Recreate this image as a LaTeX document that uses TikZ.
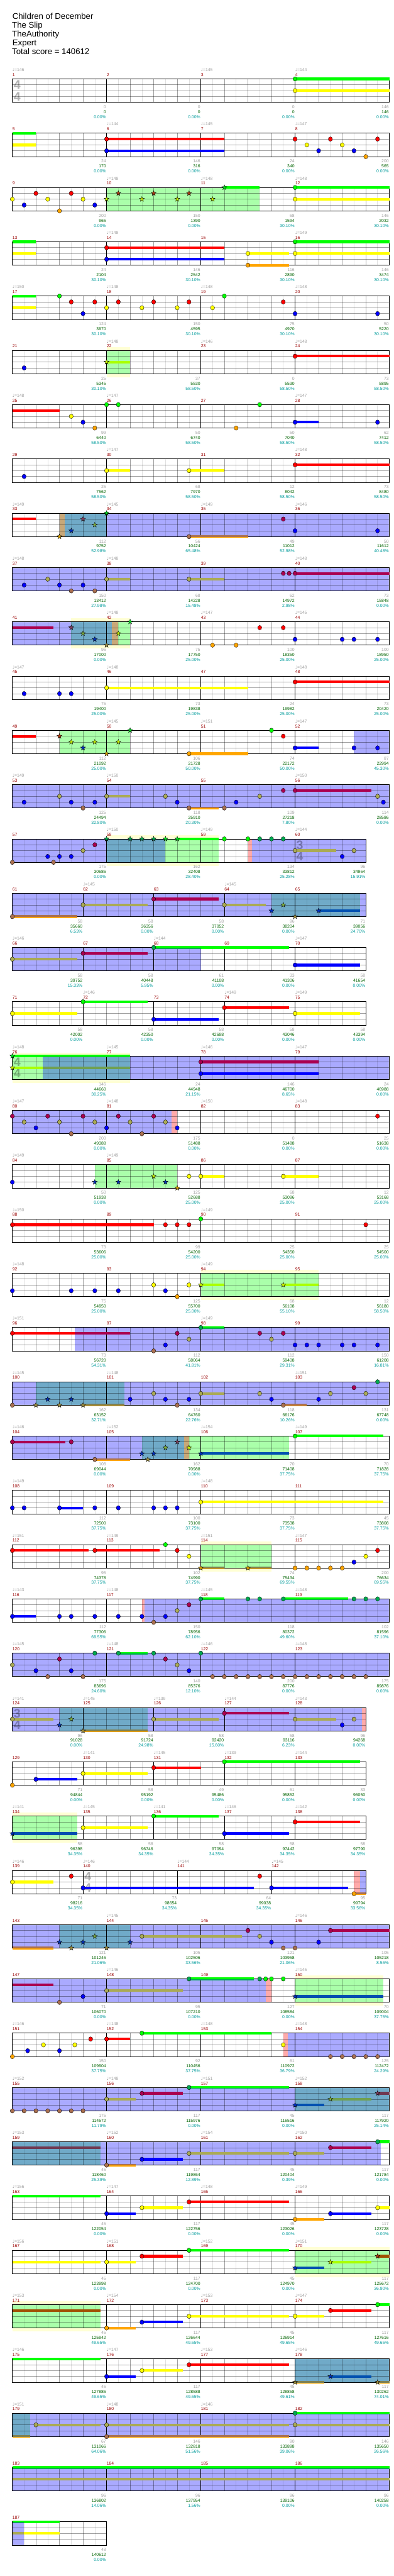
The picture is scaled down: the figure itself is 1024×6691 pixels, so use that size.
\documentclass[tikz,border=0pt]{standalone}
\usepackage{fontspec}
\setmainfont{Liberation Sans}
\newfontfamily\dv{DejaVu Sans}
\definecolor{cG}{HTML}{00FF00}
\definecolor{cR}{HTML}{FF0000}
\definecolor{cY}{HTML}{FFFF00}
\definecolor{cB}{HTML}{0000FF}
\definecolor{cO}{HTML}{FFA500}
\definecolor{aR}{HTML}{AA0050}
\definecolor{aY}{HTML}{AAAA55}
\definecolor{aO}{HTML}{AA7050}
\definecolor{aG}{HTML}{00AA50}
\definecolor{sG}{HTML}{00E020}
\definecolor{sR}{HTML}{B03A10}
\definecolor{sY}{HTML}{C8F000}
\definecolor{sB}{HTML}{0030C0}
\definecolor{sO}{HTML}{D8A000}
\definecolor{tR}{HTML}{804060}
\definecolor{tY}{HTML}{80B040}
\definecolor{tO}{HTML}{A09040}
\definecolor{lime}{HTML}{AAFF00}
\definecolor{dB}{HTML}{0050B0}
\definecolor{bR}{HTML}{A05000}
\definecolor{tYs}{HTML}{70A050}
\definecolor{tRs}{HTML}{703850}
\definecolor{olO}{HTML}{808050}
\definecolor{hlY}{HTML}{FFFFD4}
\definecolor{spG}{HTML}{AAFFAA}
\definecolor{acB}{HTML}{AAAAFF}
\definecolor{tealc}{HTML}{70AAC8}
\definecolor{tanc}{HTML}{C8A878}
\definecolor{pinkc}{HTML}{FFAAAA}
\definecolor{mred}{HTML}{990000}
\definecolor{lgray}{HTML}{A0A0A0}
\definecolor{dgreen}{HTML}{006400}
\definecolor{cyanc}{HTML}{009C9C}
\newcounter{nn}
\newcommand\Rw[1]{\pgfmathsetmacro\RT{205+141*(#1-1)}}
\newcommand\Rg[3]{\fill[#3] ({32+30.625*(#1)},\RT) rectangle ({32+30.625*(#2)},{\RT+60.8});}
\newcommand\Hl[2]{\fill[hlY] ({32+30.625*(#1)},{\RT-9}) rectangle ({32+30.625*(#2)},{\RT+69.8});}
\newcommand\Grid[2]{%
  \foreach \i in {1,3,...,#1}{\draw[subl] ({32+30.625*\i},\RT) -- ++(0,60.8);}
  \foreach \i in {2,4,...,#1}{\draw[beatl] ({32+30.625*\i},\RT) -- ++(0,60.8);}
  \foreach \k in {1,2,3}{\draw[beatl] (32,{\RT+15.2*\k}) -- ({32+30.625*#1},{\RT+15.2*\k});}
  \foreach \i in {#2}{\draw[measl] ({32+30.625*\i},\RT) -- ++(0,60.8);}
  \draw[bord] (32,\RT) rectangle ({32+30.625*#1},{\RT+60.8});}
\newcommand\Mn[2]{\stepcounter{nn}\node[lab,text=mred,anchor=base west,name=n\arabic{nn}] at ({32+30.625*(#1)},{\RT-6.8}) {#2};}
\newcommand\Gm[4]{\Grid{#1}{#2}\foreach \hh [count=\cc from 0] in {#3}{\pgfmathtruncatemacro\mm{#4+\cc}\Mn{\hh}{\mm}}}
\newcommand\Gf[1]{\Gm{32}{8,16,24}{0,8,16,24}{#1}}
\newcommand\Gt[1]{\Gm{30}{6,12,18,24}{0,6,12,18,24}{#1}}
\newcommand\Tp[2]{\stepcounter{nn}\node[lab,text=lgray,anchor=base west,name=n\arabic{nn}] at ({32+30.625*(#1)},{\RT-19.5}) {{\dv ♩}=#2};}
\newcommand\Lb[4]{%
  \stepcounter{nn}\node[lab,text=lgray,anchor=base east,name=n\arabic{nn}] at ({31+30.625*(#1)},{\RT+76.8}) {#2};
  \stepcounter{nn}\node[lab,text=dgreen,anchor=base east,name=n\arabic{nn}] at ({31+30.625*(#1)},{\RT+89.8}) {#3};
  \stepcounter{nn}\node[lab,text=cyanc,anchor=base east,name=n\arabic{nn}] at ({31+30.625*(#1)},{\RT+102.8}) {#4\%};}
\newcommand\Ts[3]{%
  \stepcounter{nn}\node[tsig,name=n\arabic{nn}] at ({44.5+30.625*(#1)},{\RT+15.5}) {#2};
  \stepcounter{nn}\node[tsig,name=n\arabic{nn}] at ({44.5+30.625*(#1)},{\RT+45.5}) {#3};}
\newcommand\Su[4]{\fill[#4] ({32+30.625*(#1)},{\RT+15.2*(#3)-3.4}) rectangle ({32+30.625*(#2)},{\RT+15.2*(#3)+3.4});}
\newcommand\Sd[5]{\fill[#5] ({32+30.625*(#1)},{\RT+15.2*(#3)-3.4}) rectangle ({32+30.625*(#2)},{\RT+15.2*(#3)+3.4});
  \fill[#4] ({32+30.625*(#1)},{\RT+15.2*(#3)-3.4}) rectangle ({32+30.625*(#2)},{\RT+15.2*(#3)+1});}
\newcommand\Nt[3]{\filldraw[fill=#3,draw=black,line width=0.3pt] ({32+30.625*(#1)},{\RT+15.2*(#2)}) ellipse [x radius=5.3,y radius=5.8];}
\newcommand\St[3]{\filldraw[fill=#3,draw=black,line width=0.3pt,shift={({32+30.625*(#1)},{\RT+15.2*(#2)})}] (270:6.8)--(306:2.8)--(342:6.8)--(18:2.8)--(54:6.8)--(90:2.8)--(126:6.8)--(162:2.8)--(198:6.8)--(234:2.8)--cycle;}
\begin{document}
\begin{tikzpicture}[x=0.5pt,y=-0.5pt,
  subl/.style={draw=black,draw opacity=0.12,line width=0.5pt},
  beatl/.style={draw=black,draw opacity=0.37,line width=0.5pt},
  measl/.style={draw=black,line width=0.5pt},
  bord/.style={draw=black,line width=0.65pt},
  lab/.style={inner sep=0pt,font=\fontsize{5.6pt}{6pt}\selectfont},
  tsig/.style={inner sep=0pt,text=black,text opacity=0.3,font=\bfseries\fontsize{16pt}{16pt}\selectfont},
  ttl/.style={inner sep=0pt,anchor=base west,font=\fontsize{10.8pt}{12pt}\selectfont}]
\useasboundingbox (0,0) rectangle (1024,6691);
\fill[white] (0,0) rectangle (1024,6691);
\node[ttl,name=t1] at (32,49.3) {Children of December};
\node[ttl,name=t2] at (31,72) {The Slip};
\node[ttl,name=t3] at (31,95.3) {TheAuthority};
\node[ttl,name=t4] at (32,118.3) {Expert};
\node[ttl,name=t5] at (31,141) {Total score = 140612};
% Row 1
\Rw{1}\Gf{1}\Ts{0}{4}{4}
\Su{24}{32}{0}{cG}\Su{24}{32}{2}{cY}\Nt{24}{0}{cG}\Nt{24}{2}{cY}
\Tp{0}{146}\Tp{16}{145}\Tp{24}{144}
\Lb{8}{0}{0}{0.00}\Lb{16}{0}{0}{0.00}\Lb{24}{0}{0}{0.00}\Lb{32}{146}{146}{0.00}
% Row 2
\Rw{2}\Gf{5}
\Su{0}{2}{0}{cG}\Su{0}{2}{2}{cY}\Su{8}{18}{1}{cR}\Su{8}{18}{3}{cB}
\Nt{8}{1}{cR}\Nt{8}{3}{cB}\Nt{24}{1}{cR}\Nt{25}{2}{cY}\Nt{26}{3}{cB}\Nt{27}{1}{cR}\Nt{28}{2}{cY}\Nt{29}{3}{cB}\Nt{30}{4}{cO}\Nt{31}{1}{cR}
\Tp{8}{144}\Tp{16}{145}\Tp{24}{147}
\Lb{8}{24}{170}{0.00}\Lb{16}{146}{316}{0.00}\Lb{24}{24}{340}{0.00}\Lb{32}{200}{565}{0.00}
% Row 3
\Rw{3}\Rg{8}{21}{spG}\Gf{9}
\Nt{0}{2}{cY}\Nt{1}{3}{cB}\Nt{2}{1}{cR}\Nt{3}{2}{cY}\Nt{4}{4}{cO}\Nt{5}{1}{cR}\Nt{6}{2}{cY}\Nt{7}{3}{cB}
\St{8}{2}{sY}\St{9}{1}{sR}\St{11}{2}{sY}\St{12}{1}{sR}\St{14}{2}{sY}\St{15}{1}{sR}\St{17}{2}{sY}\Su{18}{21}{0}{cG}\St{18}{0}{sG}
\Su{24}{32}{0}{cG}\Su{24}{32}{2}{cY}\Nt{24}{0}{cG}\Nt{24}{2}{cY}
\Tp{8}{148}\Tp{16}{148}\Tp{24}{148}
\Lb{8}{200}{965}{0.00}\Lb{16}{150}{1390}{0.00}\Lb{24}{68}{1594}{30.10}\Lb{32}{146}{2032}{30.10}
% Row 4
\Rw{4}\Gf{13}
\Su{0}{2}{0}{cG}\Su{0}{2}{2}{cY}\Su{8}{18}{1}{cR}\Su{8}{18}{3}{cB}\Su{20}{23.5}{2}{cY}\Su{20}{23.5}{4}{cO}\Su{24}{32}{0}{cG}\Su{24}{32}{2}{cY}
\Nt{8}{1}{cR}\Nt{8}{3}{cB}\Nt{20}{2}{cY}\Nt{20}{4}{cO}\Nt{24}{0}{cG}\Nt{24}{2}{cY}
\Tp{8}{148}\Tp{24}{149}
\Lb{8}{24}{2104}{30.10}\Lb{16}{146}{2542}{30.10}\Lb{24}{116}{2890}{30.10}\Lb{32}{146}{3474}{30.10}
% Row 5
\Rw{5}\Gf{17}
\Su{0}{2}{0}{cG}\Su{0}{2}{2}{cY}
\Nt{4}{0}{cG}\Nt{5}{1}{cR}\Nt{6}{3}{cB}\Nt{7}{1}{cR}\Nt{8}{2}{cY}\Nt{9}{1}{cR}\Nt{11}{2}{cY}\Nt{12}{1}{cR}\Nt{14}{2}{cY}\Nt{15}{1}{cR}\Nt{17}{2}{cY}\Nt{18}{0}{cG}\Nt{23}{1}{cR}\Nt{24}{3}{cB}\Nt{31}{3}{cB}
\Tp{0}{150}\Tp{8}{148}\Tp{16}{148}\Tp{24}{148}
\Lb{8}{124}{3970}{30.10}\Lb{16}{150}{4595}{30.10}\Lb{24}{75}{4970}{30.10}\Lb{32}{50}{5220}{30.10}
% Row 6
\Rw{6}\Hl{8}{10}\Rg{8}{10}{spG}\Gf{21}
\Nt{1}{3}{cB}\Su{8}{10}{2}{lime}\St{8}{2}{sY}\Su{24}{32}{1}{cR}\Nt{24}{1}{cR}
\Tp{8}{148}\Tp{16}{146}\Tp{24}{148}
\Lb{8}{25}{5345}{30.10}\Lb{16}{37}{5530}{58.50}\Lb{24}{0}{5530}{58.50}\Lb{32}{73}{5895}{58.50}
% Row 7
\Rw{7}\Gf{25}
\Su{0}{4}{1}{cR}\Nt{5}{2}{cY}\Nt{6}{3}{cB}\Nt{7}{4}{cO}\Nt{8}{0}{cG}\Nt{9}{0}{cG}\Nt{19}{4}{cO}\Nt{21}{0}{cG}\Su{24}{26}{3}{cB}\Nt{24}{3}{cB}\Nt{31}{3}{cB}
\Tp{0}{148}\Tp{8}{147}\Tp{24}{147}
\Lb{8}{99}{6440}{58.50}\Lb{16}{50}{6740}{58.50}\Lb{24}{50}{7040}{58.50}\Lb{32}{62}{7412}{58.50}
% Row 8
\Rw{8}\Gf{29}
\Nt{1}{3}{cB}\Su{8}{10}{2}{cY}\Nt{8}{2}{cY}\Su{15}{18}{2}{cY}\Nt{15}{2}{cY}\Su{24}{32}{1}{cR}\Nt{24}{1}{cR}
\Tp{8}{147}\Tp{24}{148}
\Lb{8}{25}{7562}{58.50}\Lb{16}{68}{7970}{58.50}\Lb{24}{12}{8042}{58.50}\Lb{32}{73}{8480}{58.50}
% Row 9
\Rw{9}\Rg{4}{4.45}{tanc}\Rg{4.45}{8}{tealc}\Rg{8}{32}{acB}\Gf{33}
\Su{0}{2}{1}{cR}\St{4}{4}{sO}\St{5}{3}{sB}\St{6}{1}{tR}\St{7}{2}{tY}\St{8}{0}{sG}
\Sd{15}{20}{4}{aO}{cO}\Nt{15}{4}{aO}\Nt{23}{1}{aR}\Nt{24}{3}{cB}\Nt{31}{3}{cB}
\Tp{0}{149}\Tp{8}{145}\Tp{16}{149}\Tp{24}{146}
\Lb{8}{112}{9752}{52.98}\Lb{16}{56}{10424}{65.48}\Lb{24}{49}{11012}{52.98}\Lb{32}{50}{11612}{40.48}
% Row 10
\Rw{10}\Rg{0}{32}{acB}\Gf{37}
\Nt{1}{3}{cB}\Nt{3}{2}{aY}\Nt{4}{3}{cB}\Nt{5}{4}{aO}\Nt{6}{3}{cB}\Nt{7}{4}{aO}\Su{8}{10}{2}{aY}\Nt{8}{2}{aY}\Su{15}{18}{2}{aY}\Nt{15}{2}{aY}\Nt{23}{1}{aR}\Nt{23.5}{1}{aR}\Su{24}{32}{1}{aR}\Nt{24}{1}{aR}
\Tp{0}{148}\Tp{8}{148}\Tp{24}{148}
\Lb{8}{150}{13412}{27.98}\Lb{16}{68}{14228}{15.48}\Lb{24}{62}{14972}{2.98}\Lb{32}{73}{15848}{0.00}
% Row 11
\Rw{11}\Hl{5}{10}\Rg{0}{5}{acB}\Rg{5}{8.47}{tealc}\Rg{8.47}{9}{tanc}\Rg{9}{10}{spG}\Gf{41}
\Su{0}{3.5}{1}{aR}\St{5}{1}{tR}\St{6}{2}{tY}\St{7}{3}{sB}\St{8}{4}{tO}\St{9}{2}{sY}\St{10}{0}{sG}
\Nt{17}{4}{cO}\Nt{19}{4}{cO}\Nt{21}{1}{cR}\Nt{23}{1}{cR}\Nt{24}{3}{cB}\Nt{28}{3}{cB}\Nt{29}{3}{cB}\Nt{31}{3}{cB}
\Tp{8}{148}\Tp{16}{147}\Tp{24}{145}
\Lb{8}{96}{17000}{0.00}\Lb{16}{75}{17750}{25.00}\Lb{24}{100}{18350}{25.00}\Lb{32}{100}{18950}{25.00}
% Row 12
\Rw{12}\Gf{45}
\Nt{1}{3}{cB}\Nt{4}{3}{cB}\Nt{5}{3}{cB}\Su{8}{20}{2}{cY}\Nt{8}{2}{cY}\Su{24}{32}{1}{cR}\Nt{24}{1}{cR}
\Tp{0}{147}\Tp{8}{148}\Tp{24}{148}
\Lb{8}{75}{19400}{25.00}\Lb{16}{73}{19838}{25.00}\Lb{24}{24}{19982}{25.00}\Lb{32}{73}{20420}{25.00}
% Row 13
\Rw{13}\Rg{4}{10}{spG}\Rg{29}{32}{acB}\Gf{49}
\Su{0}{2}{1}{cR}\St{4}{1}{sR}\St{5}{2}{sY}\St{6}{3}{sB}\St{7}{2}{sY}\St{8}{4}{sO}\St{9}{2}{sY}\St{10}{0}{sG}
\Su{15}{20}{4}{cO}\Nt{15}{4}{cO}\Nt{22}{0}{cG}\Nt{23}{1}{cR}\Su{24}{26}{3}{cB}\Nt{24}{3}{cB}\Nt{29}{3}{cB}\Nt{31}{3}{cB}
\Tp{8}{145}\Tp{16}{151}\Tp{24}{147}
\Lb{8}{112}{21092}{25.00}\Lb{16}{106}{21728}{50.00}\Lb{24}{74}{22172}{50.00}\Lb{32}{87}{22994}{45.30}
% Row 14
\Rw{14}\Rg{0}{32}{acB}\Gf{53}
\Nt{1}{3}{cB}\Nt{4}{2}{aY}\Nt{5}{3}{cB}\Nt{6}{4}{aO}\Nt{7}{3}{cB}\Su{8}{10}{2}{aY}\Nt{8}{2}{aY}\Nt{13}{2}{aY}\Nt{14}{3}{cB}\Sd{15}{17.5}{4}{aO}{cO}\Nt{15}{4}{aO}\Nt{18}{4}{aO}\Nt{19}{3}{cB}\Nt{21}{2}{aY}\Nt{23}{1}{aR}\Su{24}{30.5}{1}{aR}\Nt{24}{1}{aR}\Nt{31}{2}{aY}\Nt{31.5}{3}{cB}
\Tp{0}{149}\Tp{8}{150}\Tp{24}{150}
\Lb{8}{125}{24494}{32.80}\Lb{16}{118}{25910}{20.30}\Lb{24}{109}{27218}{7.80}\Lb{32}{114}{28586}{0.00}
% Row 15
\Rw{15}\Hl{8}{17.5}\Rg{0}{8}{acB}\Rg{8}{13}{tealc}\Rg{13}{17.5}{spG}\Rg{20}{20.35}{pinkc}\Rg{20.35}{30}{acB}\Gm{30}{8,16,24}{0,8,16,24}{57}\Ts{24}{3}{4}
\Nt{0}{4}{aO}\Nt{3}{3}{cB}\Nt{3.5}{4}{aO}\Nt{4}{3}{cB}\Nt{5}{3}{cB}\Nt{6}{2}{aY}\Nt{7}{1}{aR}
\St{8}{0}{aG}\St{10}{0}{aG}\St{11}{0}{aG}\St{12}{0}{aG}\St{13}{0}{sG}\Su{14}{17.5}{0}{cG}\St{14}{0}{sG}
\Nt{18}{0}{cG}\Nt{20}{0}{cG}\Nt{21}{0}{aG}\Nt{22}{0}{aG}\Nt{23}{0}{aG}\Su{24}{27.5}{2}{aY}\Nt{24}{2}{aY}\Nt{28}{3}{cB}\Nt{29}{2}{aY}
\Tp{8}{150}\Tp{16}{149}\Tp{24}{144}
\Lb{8}{175}{30686}{0.00}\Lb{16}{162}{32408}{28.40}\Lb{24}{134}{33812}{25.28}\Lb{30}{96}{34964}{15.91}
% Row 16
\Rw{16}\Rg{0}{22}{acB}\Rg{22}{29.5}{tealc}\Rg{29.5}{30}{acB}\Gt{61}
\Sd{0}{5.5}{4}{aO}{cO}\Nt{0}{4}{aO}\Su{6}{11.5}{2}{aY}\Nt{6}{2}{aY}\Su{12}{17.5}{1}{aR}\Nt{12}{1}{aR}\Su{18}{21.5}{2}{aY}\Nt{18}{2}{aY}
\St{22}{3}{sB}\St{23}{2}{tY}\St{24}{4}{tO}\Su{26}{29.5}{3}{dB}\St{26}{3}{sB}
\Tp{6}{145}\Tp{18}{145}
\Lb{6}{58}{35660}{6.53}\Lb{12}{58}{36356}{0.00}\Lb{18}{58}{37052}{0.00}\Lb{24}{96}{38204}{0.00}\Lb{30}{71}{39056}{24.70}
% Row 17
\Rw{17}\Rg{0}{16}{acB}\Gt{66}
\Su{0}{5.5}{2}{aY}\Nt{0}{2}{aY}\Su{6}{11.5}{1}{aR}\Nt{6}{1}{aR}\Sd{12}{16}{0}{cG}{aG}\Su{16}{23.5}{0}{cG}\Nt{12}{0}{aG}\Su{24}{29.5}{3}{cB}\Nt{24}{3}{cB}
\Tp{0}{146}\Tp{12}{144}\Tp{24}{147}
\Lb{6}{58}{39752}{15.33}\Lb{12}{58}{40448}{5.95}\Lb{18}{61}{41108}{0.00}\Lb{24}{33}{41306}{0.00}\Lb{30}{58}{41654}{0.00}
% Row 18
\Rw{18}\Gt{71}
\Su{0}{5.5}{2}{cY}\Nt{0}{2}{cY}\Su{6}{11.5}{0}{cG}\Nt{6}{0}{cG}\Su{12}{17.5}{3}{cB}\Nt{12}{3}{cB}\Su{18}{23.5}{1}{cR}\Nt{18}{1}{cR}\Su{24}{29.5}{2}{cY}\Nt{24}{2}{cY}
\Tp{6}{146}\Tp{18}{149}\Tp{24}{149}
\Lb{6}{58}{42002}{0.00}\Lb{12}{58}{42350}{0.00}\Lb{18}{58}{42698}{0.00}\Lb{24}{58}{43046}{0.00}\Lb{30}{58}{43394}{0.00}
% Row 19
\Rw{19}\Hl{0}{10}\Rg{0}{2.6}{spG}\Rg{2.6}{10}{tealc}\Rg{10}{32}{acB}\Gf{76}\Ts{0}{4}{4}
\Su{0}{2.6}{0}{cG}\Sd{2.6}{10}{0}{cG}{aG}\Su{0}{2.6}{2}{lime}\Su{2.6}{10}{2}{tYs}\St{0}{0}{sG}\St{0}{2}{sY}
\Su{16}{26}{1}{aR}\Nt{16}{1}{aR}\Su{16}{26}{3}{cB}\Nt{16}{3}{cB}
\Tp{0}{148}\Tp{8}{145}\Tp{16}{146}\Tp{24}{147}
\Lb{8}{146}{44660}{30.25}\Lb{16}{24}{44948}{21.15}\Lb{24}{146}{46700}{8.65}\Lb{32}{24}{46988}{0.00}
% Row 20
\Rw{20}\Rg{0}{13.5}{acB}\Rg{13.5}{14}{pinkc}\Gf{80}
\Nt{0}{1}{aR}\Nt{1}{2}{aY}\Nt{2}{3}{cB}\Nt{3}{1}{aR}\Nt{4}{2}{aY}\Nt{5}{4}{aO}\Nt{6}{1}{aR}\Nt{7}{2}{aY}\Nt{8}{3}{cB}\Nt{9}{1}{aR}\Nt{10}{2}{aY}\Nt{11}{4}{aO}\Nt{12}{1}{aR}\Nt{13}{2}{aY}\Nt{14}{3}{cB}\Nt{31}{1}{cR}
\Tp{0}{147}\Tp{8}{148}\Tp{16}{150}\Tp{24}{148}
\Lb{8}{200}{49388}{0.00}\Lb{16}{175}{51488}{0.00}\Lb{24}{0}{51488}{0.00}\Lb{32}{25}{51638}{0.00}
% Row 21
\Rw{21}\Rg{7}{14}{spG}\Gf{84}
\Nt{0}{3}{cB}\St{7}{3}{sB}\St{9}{3}{sB}\St{12}{2}{sY}\St{13}{3}{sB}\St{14}{4}{sO}\Nt{15}{2}{cY}\Su{16}{18}{2}{cY}\Nt{16}{2}{cY}\Su{23}{26}{2}{cY}\Nt{23}{2}{cY}
\Tp{0}{149}\Tp{8}{149}
\Lb{8}{50}{51938}{0.00}\Lb{16}{125}{52688}{25.00}\Lb{24}{68}{53096}{25.00}\Lb{32}{12}{53168}{25.00}
% Row 22
\Rw{22}\Gf{88}
\Su{0}{12}{1}{cR}\Nt{0}{1}{cR}\Nt{13}{1}{cR}\Nt{14}{1}{cR}\Nt{15}{1}{cR}\Nt{16}{0}{cG}\Nt{30}{1}{cR}
\Tp{0}{150}\Tp{16}{149}
\Lb{8}{73}{53606}{25.00}\Lb{16}{99}{54200}{25.00}\Lb{24}{25}{54350}{25.00}\Lb{32}{25}{54500}{25.00}
% Row 23
\Rw{23}\Hl{16}{26}\Rg{16}{26}{spG}\Gf{92}
\Nt{0}{3}{cB}\Nt{5}{3}{cB}\Nt{7}{3}{cB}\Nt{9}{3}{cB}\Nt{12}{2}{cY}\Nt{13}{3}{cB}\Nt{14}{4}{cO}\Nt{15}{2}{cY}\Su{16}{18}{2}{lime}\St{16}{2}{sY}\Su{23}{26}{2}{lime}\St{23}{2}{sY}
\Tp{0}{148}\Tp{16}{149}
\Lb{8}{75}{54950}{25.00}\Lb{16}{125}{55700}{25.00}\Lb{24}{68}{56108}{55.10}\Lb{32}{12}{56180}{58.50}
% Row 24
\Rw{24}\Rg{5.3}{32}{acB}\Gf{96}
\Su{0}{5.3}{1}{cR}\Su{5.3}{10}{1}{aR}\Nt{0}{1}{cR}\Nt{12}{4}{aO}\Nt{13}{3}{cB}\Nt{14}{1}{aR}\Nt{15}{2}{aY}\Sd{16}{18}{0}{cG}{aG}\Nt{16}{0}{aG}\Nt{21}{1}{aR}\Nt{22}{2}{aY}\Nt{23}{1}{aR}\Nt{24}{3}{cB}\Nt{25}{3}{cB}\Nt{26}{3}{cB}\Nt{28}{3}{cB}\Nt{29}{3}{cB}\Nt{31}{3}{cB}
\Tp{0}{151}\Tp{16}{149}
\Lb{8}{73}{56720}{54.31}\Lb{16}{112}{58064}{41.81}\Lb{24}{112}{59408}{29.31}\Lb{32}{150}{61208}{16.81}
% Row 25
\Rw{25}\Rg{0}{2}{acB}\Rg{2}{9.5}{tealc}\Rg{9.5}{32}{acB}\Gf{100}
\Nt{0}{4}{aO}\St{2}{4}{tO}\St{3}{3}{sB}\St{4}{4}{tO}\St{5}{3}{sB}\Sd{6}{9.5}{4}{olO}{cO}\St{6}{4}{tO}
\Nt{10}{3}{cB}\Nt{12}{2}{aY}\Nt{13}{3}{cB}\Nt{14}{4}{aO}\Nt{15}{3}{cB}\Su{16}{18}{2}{aY}\Nt{16}{2}{aY}\Nt{21}{2}{aY}\Nt{22}{3}{cB}\Sd{23}{25}{4}{aO}{cO}\Nt{23}{4}{aO}\Nt{26}{3}{cB}\Nt{27}{2}{aY}\Nt{29}{1}{aR}\Nt{30}{2}{aY}\Nt{31}{0}{aG}
\Tp{0}{145}\Tp{8}{148}\Tp{24}{151}
\Lb{8}{162}{63152}{32.71}\Lb{16}{134}{64760}{22.76}\Lb{24}{118}{66176}{10.26}\Lb{32}{131}{67748}{0.00}
% Row 26
\Rw{26}\Rg{0}{11}{acB}\Rg{11}{14.56}{tealc}\Rg{14.56}{15}{tanc}\Rg{15}{23.5}{spG}\Gf{104}
\Su{0}{4.5}{1}{aR}\Nt{0}{1}{aR}\Nt{5}{1}{aR}\Sd{7}{10}{4}{aO}{cO}\Nt{7}{4}{aO}
\St{11}{3}{sB}\St{11.5}{4}{tO}\St{12}{3}{sB}\St{13}{2}{tY}\St{14}{1}{tR}\St{15}{2}{sY}\Su{16}{23.5}{3}{dB}\St{16}{3}{sB}\Su{24}{31.5}{0}{cG}\Nt{24}{0}{cG}
\Tp{0}{146}\Tp{8}{152}\Tp{16}{154}\Tp{24}{149}
\Lb{8}{108}{69044}{0.00}\Lb{16}{162}{70988}{0.00}\Lb{24}{70}{71408}{37.75}\Lb{32}{70}{71828}{37.75}
% Row 27
\Rw{27}\Gf{108}
\Nt{0}{3}{cB}\Nt{1}{3}{cB}\Su{4}{6}{3}{cB}\Nt{4}{3}{cB}\Nt{7}{3}{cB}\Nt{9}{3}{cB}\Nt{12}{3}{cB}\Nt{13}{3}{cB}\Nt{14}{3}{cB}\Su{16}{31.5}{2}{cY}\Nt{16}{2}{cY}
\Tp{0}{149}\Tp{16}{148}
\Lb{8}{112}{72500}{37.75}\Lb{16}{100}{73100}{37.75}\Lb{24}{73}{73538}{37.75}\Lb{32}{45}{73808}{37.75}
% Row 28
\Rw{28}\Hl{16}{22}\Rg{16}{22}{spG}\Gf{112}
\Su{0}{6.5}{1}{cR}\Nt{0}{1}{cR}\Su{7}{12.5}{1}{cR}\Nt{7}{1}{cR}\Nt{13}{0}{cG}\Nt{14}{1}{cR}\Nt{15}{2}{cY}\Sd{16}{18}{4}{olO}{cO}\St{16}{4}{sO}\Sd{20}{22}{4}{olO}{cO}\St{20}{4}{sO}
\Nt{24}{4}{cO}\Nt{25}{4}{cO}\Nt{26}{4}{cO}\Nt{27}{4}{cO}\Nt{28}{4}{cO}\Nt{29}{3}{cB}\Nt{30}{2}{cY}\Nt{31}{1}{cR}
\Tp{0}{151}\Tp{8}{149}\Tp{16}{151}\Tp{24}{147}
\Lb{8}{95}{74378}{37.75}\Lb{16}{102}{74990}{37.75}\Lb{24}{74}{75434}{69.55}\Lb{32}{200}{76634}{69.55}
% Row 29
\Rw{29}\Rg{11}{11.2}{pinkc}\Rg{11.2}{32}{acB}\Gf{116}
\Su{0}{2}{3}{cB}\Nt{0}{3}{cB}\Nt{4}{3}{cB}\Nt{5}{3}{cB}\Nt{7}{3}{cB}\Nt{9}{3}{cB}\Nt{11}{3}{cB}\Nt{12}{4}{aO}\Nt{13}{3}{cB}\Nt{14}{2}{aY}\Nt{15}{1}{aR}
\Sd{16}{18}{0}{cG}{aG}\Nt{16}{0}{aG}\Nt{20}{0}{aG}\Nt{21}{0}{aG}\Sd{23}{28.5}{0}{cG}{aG}\Nt{23}{0}{aG}\Nt{29}{0}{aG}\Nt{30}{0}{aG}\Nt{31}{0}{aG}
\Tp{0}{143}\Tp{8}{148}\Tp{16}{145}\Tp{24}{148}
\Lb{8}{112}{77306}{69.55}\Lb{16}{150}{78956}{62.10}\Lb{24}{118}{80372}{49.60}\Lb{32}{102}{81596}{37.10}
% Row 30
\Rw{30}\Rg{0}{32}{acB}\Gf{120}
\Nt{0}{2}{aY}\Nt{2}{3}{cB}\Nt{3}{4}{aO}\Nt{4}{1}{aR}\Nt{5}{3}{cB}\Nt{6}{4}{aO}\Nt{7}{0}{aG}\Sd{9}{11.5}{0}{cG}{aG}\Nt{9}{0}{aG}\Nt{12}{0}{aG}\Nt{13}{1}{aR}\Nt{14}{2}{aY}\Nt{15}{3}{cB}\Nt{16}{0}{aG}
\foreach \q in {17,...,30}{\Nt{\q}{4}{aO}}
\Tp{0}{145}\Tp{8}{148}\Tp{16}{146}\Tp{24}{148}
\Lb{8}{175}{83696}{24.60}\Lb{16}{140}{85376}{12.10}\Lb{24}{200}{87776}{0.00}\Lb{32}{175}{89876}{0.00}
% Row 31
\Rw{31}\Rg{0}{4}{acB}\Rg{4}{11.5}{tealc}\Rg{11.5}{29.7}{acB}\Rg{29.7}{30}{pinkc}\Gt{124}\Ts{0}{3}{4}
\Su{0}{3.5}{2}{aY}\Nt{0}{2}{aY}\St{4}{3}{sB}\St{5}{2}{tY}\Sd{6}{11.5}{4}{olO}{cO}\St{6}{4}{tO}
\Su{12}{17.5}{2}{aY}\Nt{12}{2}{aY}\Su{18}{23.5}{1}{aR}\Nt{18}{1}{aR}\Su{24}{27.5}{2}{aY}\Nt{24}{2}{aY}\Nt{28}{3}{cB}\Nt{29}{2}{aY}
\Tp{0}{141}\Tp{6}{145}\Tp{12}{139}\Tp{18}{144}\Tp{24}{143}
\Lb{6}{96}{91028}{0.00}\Lb{12}{58}{91724}{24.98}\Lb{18}{58}{92420}{15.60}\Lb{24}{58}{93116}{6.23}\Lb{30}{96}{94268}{0.00}
% Row 32
\Rw{32}\Gt{129}
\Nt{0}{4}{cO}\Su{2}{5.5}{3}{cB}\Nt{2}{3}{cB}\Su{6}{11.5}{2}{cY}\Nt{6}{2}{cY}\Su{12}{16}{1}{cR}\Nt{12}{1}{cR}\Su{18}{29.5}{0}{cG}\Nt{18}{0}{cG}
\Tp{6}{141}\Tp{12}{145}\Tp{18}{139}\Tp{24}{144}
\Lb{6}{71}{94844}{0.00}\Lb{12}{58}{95192}{0.00}\Lb{18}{49}{95486}{0.00}\Lb{24}{61}{95852}{0.00}\Lb{30}{33}{96050}{0.00}
% Row 33
\Rw{33}\Hl{0}{5.5}\Rg{0}{5.5}{spG}\Gt{134}
\Su{0}{5.5}{3}{dB}\St{0}{3}{sB}\Su{6}{11.5}{2}{cY}\Nt{6}{2}{cY}\Su{12}{17.5}{0}{cG}\Nt{12}{0}{cG}\Su{18}{23.5}{3}{cB}\Nt{18}{3}{cB}\Su{24}{29.5}{1}{cR}\Nt{24}{1}{cR}
\Tp{0}{141}\Tp{6}{145}\Tp{12}{141}\Tp{18}{146}\Tp{24}{142}
\Lb{6}{58}{96398}{34.35}\Lb{12}{58}{96746}{34.35}\Lb{18}{58}{97094}{34.35}\Lb{24}{58}{97442}{34.35}\Lb{30}{58}{97790}{34.35}
% Row 34
\Rw{34}\Rg{29}{29.5}{pinkc}\Rg{29.5}{30}{acB}\Gm{30}{6,14,22}{0,6,14,22}{139}\Ts{6}{4}{4}
\Su{0}{3.5}{2}{cY}\Nt{0}{2}{cY}\Nt{5}{1}{cR}\Su{6}{20.5}{3}{cB}\Nt{6}{3}{cB}\Nt{21}{1}{cR}\Su{22}{28.5}{3}{cB}\Nt{22}{3}{cB}\Sd{29}{30}{4}{aO}{cO}\Nt{29}{4}{cO}
\Tp{0}{146}\Tp{6}{146}\Tp{14}{144}\Tp{22}{145}
\Lb{6}{71}{98216}{34.35}\Lb{14}{73}{98654}{34.35}\Lb{22}{64}{99038}{34.35}\Lb{30}{95}{99794}{33.56}
% Row 35
\Rw{35}\Rg{0}{4}{acB}\Rg{4}{10}{tealc}\Rg{10}{32}{acB}\Gf{143}
\Sd{0}{3.5}{4}{aO}{cO}\St{4}{3}{sB}\St{5}{4}{tO}\St{6}{3}{sB}\St{7}{2}{tY}\St{8}{4}{tO}\St{10}{3}{sB}
\Su{11}{19.5}{2}{aY}\Nt{11}{2}{aY}\Nt{20}{1}{aR}\Nt{21}{2}{aY}\Nt{22}{3}{cB}\Nt{23}{4}{aO}\Nt{24}{4}{aO}\Nt{26}{3}{cB}\Su{27}{32}{1}{aR}\Nt{27}{1}{aR}
\Tp{8}{145}\Tp{24}{146}
\Lb{8}{121}{101246}{21.06}\Lb{16}{105}{102506}{33.56}\Lb{24}{121}{103958}{21.06}\Lb{32}{105}{105218}{8.56}
% Row 36
\Rw{36}\Hl{24}{31.5}\Rg{0}{21.5}{acB}\Rg{21.5}{22}{pinkc}\Rg{24}{31.5}{spG}\Gf{147}
\Su{0}{3.5}{1}{aR}\Nt{4}{4}{aO}\Nt{6}{3}{cB}\Su{8}{14.5}{2}{aY}\Nt{8}{2}{aY}\Sd{15}{20.5}{0}{cG}{aG}\Nt{15}{0}{aG}\Nt{21}{0}{aG}\Nt{21.5}{0}{cG}\Nt{22}{0}{cG}\Nt{23}{0}{cG}\Su{24}{31.5}{3}{dB}\St{24}{3}{sB}
\Tp{8}{146}\Tp{24}{145}
\Lb{8}{71}{106070}{0.00}\Lb{16}{95}{107210}{0.00}\Lb{24}{127}{108584}{0.00}\Lb{32}{70}{109004}{37.75}
% Row 37
\Rw{37}\Rg{23}{23.4}{pinkc}\Rg{23.4}{32}{acB}\Gf{151}
\Nt{0}{4}{cO}\Nt{1.3}{3}{cB}\Nt{2.65}{2}{cY}\Nt{4}{3}{cB}\Nt{5.3}{2}{cY}\Nt{6.65}{1}{cR}\Su{8}{10}{1}{cR}\Nt{8}{1}{cR}\Su{11}{22}{0}{cG}\Nt{11}{0}{cG}\Nt{23}{2}{cY}
\foreach \q in {27,...,31}{\Nt{\q}{4}{aO}}
\Tp{0}{146}\Tp{8}{148}\Tp{16}{148}\Tp{24}{148}
\Lb{8}{150}{109904}{37.75}\Lb{16}{92}{110456}{37.75}\Lb{24}{61}{110972}{36.79}\Lb{32}{125}{112472}{24.29}
% Row 38
\Rw{38}\Rg{0}{24}{acB}\Rg{24}{32}{tealc}\Gf{155}
\foreach \q in {0,...,6}{\Nt{\q}{4}{aO}}
\Su{8}{10.5}{2}{aY}\Nt{8}{2}{aY}\Su{11}{14.5}{1}{aR}\Nt{11}{1}{aR}\Sd{15}{23.5}{0}{cG}{aG}\Nt{15}{0}{aG}
\Su{24}{26.5}{3}{dB}\St{24}{3}{sB}\Su{27}{30.5}{2}{tYs}\St{27}{2}{tY}\Su{31}{32}{1}{tRs}\St{31}{1}{tR}
\Tp{0}{152}\Tp{8}{148}\Tp{16}{151}\Tp{24}{152}
\Lb{8}{175}{114572}{11.79}\Lb{16}{117}{115976}{0.00}\Lb{24}{45}{116516}{0.00}\Lb{32}{117}{117920}{25.14}
% Row 39
\Rw{39}\Rg{0}{7.5}{tealc}\Rg{7.5}{31.3}{acB}\Gf{159}
\Su{0}{7.5}{1}{tRs}\Sd{8}{10.5}{4}{aO}{cO}\Nt{8}{4}{aO}\Su{11}{14.5}{3}{cB}\Nt{11}{3}{cB}\Su{15}{23.5}{2}{aY}\Nt{15}{2}{aY}\Su{24}{26.5}{2}{aY}\Nt{24}{2}{aY}\Su{27}{30.5}{1}{aR}\Nt{27}{1}{aR}\Su{31}{32}{0}{cG}\Nt{31}{0}{aG}
\Tp{0}{153}\Tp{8}{152}\Tp{16}{154}\Tp{24}{150}
\Lb{8}{45}{118460}{25.39}\Lb{16}{117}{119864}{12.89}\Lb{24}{45}{120404}{0.39}\Lb{32}{117}{121784}{0.00}
% Row 40
\Rw{40}\Gf{163}
\Su{0}{7.5}{0}{cG}\Su{8}{10.5}{3}{cB}\Nt{8}{3}{cB}\Su{11}{14.5}{2}{cY}\Nt{11}{2}{cY}\Su{15}{23.5}{1}{cR}\Nt{15}{1}{cR}\Su{24}{26.5}{4}{cO}\Nt{24}{4}{cO}\Su{27}{30.5}{3}{cB}\Nt{27}{3}{cB}\Su{31}{32}{2}{cY}\Nt{31}{2}{cY}
\Tp{0}{156}\Tp{8}{147}\Tp{16}{148}\Tp{24}{149}
\Lb{8}{45}{122054}{0.00}\Lb{16}{117}{122756}{0.00}\Lb{24}{45}{123026}{0.00}\Lb{32}{117}{123728}{0.00}
% Row 41
\Rw{41}\Hl{24}{32}\Rg{24}{32}{spG}\Gf{167}
\Su{0}{7.5}{2}{cY}\Su{8}{10.5}{2}{cY}\Nt{8}{2}{cY}\Su{11}{14.5}{1}{cR}\Nt{11}{1}{cR}\Su{15}{23.5}{0}{cG}\Nt{15}{0}{cG}\Su{24}{26.5}{3}{dB}\St{24}{3}{sB}\Su{27}{30.5}{2}{lime}\St{27}{2}{sY}\Su{31}{32}{1}{bR}\St{31}{1}{sR}
\Tp{0}{156}\Tp{8}{151}\Tp{16}{152}\Tp{24}{151}
\Lb{8}{45}{123998}{0.00}\Lb{16}{117}{124700}{0.00}\Lb{24}{45}{124970}{0.00}\Lb{32}{117}{125672}{36.90}
% Row 42
\Rw{42}\Hl{0}{7.5}\Rg{0}{7.5}{spG}\Gf{171}
\Su{0}{7.5}{1}{bR}\Su{8}{10.5}{4}{cO}\Nt{8}{4}{cO}\Su{11}{14.5}{3}{cB}\Nt{11}{3}{cB}\Su{15}{23.5}{2}{cY}\Nt{15}{2}{cY}\Su{24}{26.5}{2}{cY}\Nt{24}{2}{cY}\Su{27}{30.5}{1}{cR}\Nt{27}{1}{cR}\Su{31}{32}{0}{cG}\Nt{31}{0}{cG}
\Tp{0}{153}\Tp{8}{154}\Tp{16}{153}\Tp{24}{147}
\Lb{8}{45}{125942}{49.65}\Lb{16}{117}{126644}{49.65}\Lb{24}{45}{126914}{49.65}\Lb{32}{117}{127616}{49.65}
% Row 43
\Rw{43}\Rg{24}{32}{tealc}\Gf{175}
\Su{0}{7.5}{0}{cG}\Su{8}{10.5}{3}{cB}\Nt{8}{3}{cB}\Su{11}{14.5}{2}{cY}\Nt{11}{2}{cY}\Su{15}{23.5}{1}{cR}\Nt{15}{1}{cR}\Sd{24}{26.5}{4}{olO}{cO}\St{24}{4}{tO}\Su{27}{30.5}{3}{dB}\St{27}{3}{sB}\Sd{31}{32}{4}{olO}{cO}\St{31}{4}{tO}
\Tp{0}{146}\Tp{8}{147}\Tp{16}{153}\Tp{24}{146}
\Lb{8}{45}{127886}{49.65}\Lb{16}{117}{128588}{49.65}\Lb{24}{45}{128858}{49.61}\Lb{32}{117}{130262}{74.01}
% Row 44
\Rw{44}\Rg{0}{1.5}{tealc}\Rg{1.5}{32}{acB}\Gf{179}
\Sd{0}{1.5}{4}{olO}{cO}\Su{2}{7.5}{2}{aY}\Nt{2}{2}{aY}\Su{8}{23.5}{2}{aY}\Nt{8}{2}{aY}\Sd{8}{23.5}{4}{aO}{cO}\Nt{8}{4}{aO}\Su{24}{32}{2}{aY}\Nt{24}{2}{aY}\Sd{24}{32}{0}{cG}{aG}\Nt{24}{0}{aG}
\Tp{0}{151}\Tp{8}{148}\Tp{16}{146}
\Lb{8}{67}{131066}{64.06}\Lb{16}{146}{132818}{51.56}\Lb{24}{90}{133898}{39.06}\Lb{32}{146}{135650}{26.56}
% Row 45
\Rw{45}\Rg{0}{32}{acB}\Gf{183}
\Sd{0}{32}{0}{cG}{aG}\Su{0}{32}{2}{aY}
\Lb{8}{96}{136802}{14.06}\Lb{16}{96}{137954}{1.56}\Lb{24}{96}{139106}{0.00}\Lb{32}{96}{140258}{0.00}
% Row 46
\Rw{46}\Rg{0}{1}{acB}\Gm{8}{0}{0}{187}
\Sd{0}{1}{0}{cG}{aG}\Su{1}{4}{0}{cG}\Su{0}{1}{2}{aY}\Su{1}{4}{2}{cY}
\Lb{8}{48}{140612}{0.00}
\end{tikzpicture}
\end{document}
